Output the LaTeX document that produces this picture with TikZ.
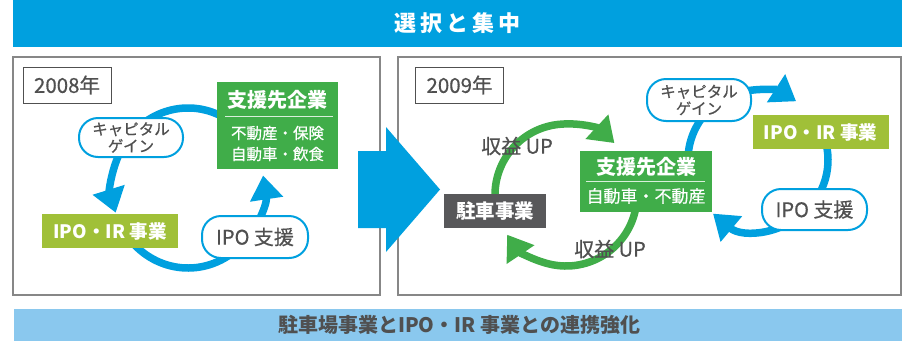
\documentclass[tikz,border=0pt]{standalone}
\usepackage{fontspec}
\setmainfont{Noto Sans CJK JP}
\newfontfamily\jpmed[FakeBold=0.5]{Noto Sans CJK JP}
\usetikzlibrary{arrows.meta}
\definecolor{bblue}{RGB}{0,160,223}
\definecolor{lblue}{RGB}{138,200,238}
\definecolor{sgreen}{RGB}{64,173,73}
\definecolor{ygreen}{RGB}{160,192,56}
\definecolor{dgray}{RGB}{88,88,90}
\definecolor{tgray}{RGB}{80,80,80}
\definecolor{pgray}{RGB}{135,135,135}
\newcommand{\myfs}[1]{\fontsize{#1}{#1}\selectfont}
\begin{document}
\begin{tikzpicture}[x=1pt,y=-1pt,
  bloop/.style={draw=bblue,line width=7.5pt},
  barrow/.style={bloop,-{Triangle[width=32pt,length=24pt]}},
  garrow/.style={draw=sgreen,line width=7.5pt,-{Triangle[width=32pt,length=24pt]}},
  panel/.style={draw=pgray,line width=1.5pt,inner sep=0},
  yearbox/.style={draw=tgray,line width=0.8pt,fill=white,text=tgray,font=\jpmed\myfs{20.5},inner sep=0,minimum width=88pt,minimum height=36pt},
  gbox/.style={fill=sgreen,inner sep=0},
  ybox/.style={fill=ygreen,text=white,font=\bfseries\myfs{18.5},inner sep=0,minimum width=136pt,minimum height=34pt},
  kbox/.style={fill=dgray,text=white,font=\bfseries\myfs{19.5},inner sep=0,minimum width=102pt,minimum height=34pt},
  rbox/.style={draw=bblue,line width=2pt,fill=white,rounded corners=19pt,text=tgray,inner sep=0,align=center},
  captext/.style={font=\jpmed\fontsize{15.5}{17}\selectfont},
  wtitle/.style={text=white,font=\bfseries\myfs{20}},
  wsub/.style={text=white,font=\jpmed\fontsize{15.5}{21}\selectfont,align=center},
  sepline/.style={draw=white!80!sgreen,line width=0.9pt},
  lbl/.style={text=tgray,font=\jpmed\myfs{20}}
]
\useasboundingbox (0,0) rectangle (902,341);
% bars
\node[fill=bblue,inner sep=0,minimum width=889pt,minimum height=47pt,text=white,font=\bfseries\myfs{22}] (title) at (457.5,23.5) {選\hspace{4pt}択\hspace{4pt}と\hspace{4pt}集\hspace{4pt}中};
\node[fill=lblue,inner sep=0,minimum width=890pt,minimum height=32pt,text=tgray,font=\bfseries\myfs{20}] (foot) at (459,325) {駐車場事業とIPO・IR 事業との連携強化};
% panels
\node[panel,minimum width=367pt,minimum height=238pt] (pan08) at (196.5,176) {};
\node[panel,minimum width=503pt,minimum height=238pt] (pan09) at (649.5,176) {};
% big arrow
\fill[bblue] (358,151) -- (386,151) -- (386,127) -- (440,189.5) -- (386,252) -- (386,228) -- (358,228) -- cycle;
% loop centres
\coordinate (cL) at (188,188);
\coordinate (cR) at (758,160);
\coordinate (cG) at (566,195);
% left blue loop
\draw[barrow] (cL) ++(300:76 and 80) arc[start angle=300,end angle=162,x radius=76,y radius=80];
\draw[barrow] (cL) ++(140:76 and 80) arc[start angle=140,end angle=-9,x radius=76,y radius=80];
% right blue loop
\draw[barrow] (cR) ++(165:70) arc[start angle=165,end angle=303,radius=70];
\draw[bloop] (cR) ++(335:70) arc[start angle=335,end angle=400,radius=70];
\draw[barrow] (cR) ++(40:70) arc[start angle=40,end angle=130,radius=70];
% green loop
\draw[garrow] (cG) ++(170:71) arc[start angle=170,end angle=313,radius=71];
\draw[garrow] (cG) ++(10:71) arc[start angle=10,end angle=146,radius=71];
% left panel nodes
\node[yearbox] (y08) at (67,85) {2008年};
\node[gbox,minimum width=121pt,minimum height=87pt] (s08) at (277.5,125.5) {};
\node[wtitle] (s08t) at (277.5,100) {支援先企業};
\draw[sepline] (225,116) -- (333,116);
\node[wsub] (s08s) at (277.5,143.5) {不動産・保険\\自動車・飲食};
\node[rbox,captext,minimum width=104pt,minimum height=39pt] (cap08) at (131,137.5) {キャピタル\\ゲイン};
\node[ybox] (ir08) at (110,231) {IPO・IR 事業};
\node[rbox,font=\jpmed\myfs{20},minimum width=106pt,minimum height=42pt] (ipo08) at (255,237) {IPO 支援};
% right panel nodes
\node[yearbox] (y09) at (459.5,85) {2009年};
\node[gbox,minimum width=132pt,minimum height=61pt] (s09) at (646,181.5) {};
\node[wtitle] (s09t) at (646,166.5) {支援先企業};
\draw[sepline] (586,181) -- (705,181);
\node[wsub,font=\jpmed\myfs{17}] (s09s) at (646,196) {自動車・不動産};
\node[kbox] (park) at (495,211) {駐車事業};
\node[rbox,captext,minimum width=104pt,minimum height=42pt] (cap09) at (699,100) {キャピタル\\ゲイン};
\node[ybox] (ir09) at (820.5,132) {IPO・IR 事業};
\node[rbox,font=\jpmed\myfs{20},minimum width=105pt,minimum height=41pt] (ipo09) at (814.5,209.5) {IPO 支援};
\node[lbl] (up1) at (517,146) {収益 UP};
\node[lbl] (up2) at (610,249) {収益 UP};
\end{tikzpicture}
\end{document}
